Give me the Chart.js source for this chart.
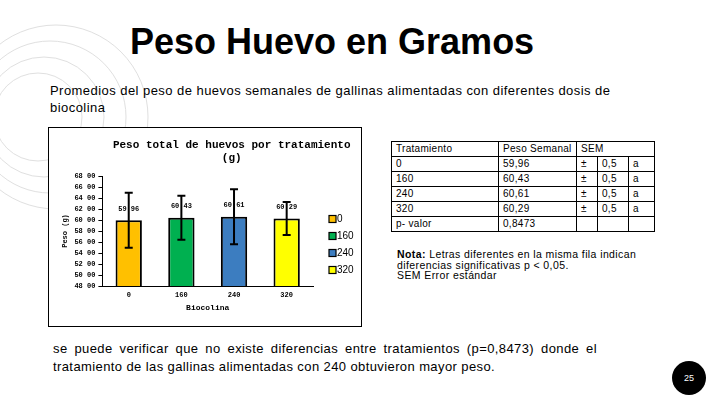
<!DOCTYPE html>
<html lang="es">
<head>
<meta charset="utf-8"/>
<title>Peso Huevo en Gramos</title>
<script src="https://cdn.jsdelivr.net/npm/chart.js"></script>
<style>
  body { margin: 0; width: 720px; height: 405px; position: relative; overflow: hidden; background: #fff; font-family: "Liberation Sans", Arial, sans-serif; color: #000; }
  .deco { position: absolute; left: 0; top: 0; }
  h1 { position: absolute; left: 130px; top: 24px; margin: 0; font-size: 36px; line-height: 36px; font-weight: bold; }
  .sub { position: absolute; left: 50px; top: 82px; font-size: 13px; line-height: 17px; letter-spacing: 0.45px; }
  .box { position: absolute; left: 48px; top: 127px; width: 312px; height: 198px; border: 1px solid #000; background: #fff; }
  table { position: absolute; left: 391px; top: 141px; width: 263px; border-collapse: collapse; table-layout: fixed; font-size: 10px; letter-spacing: 0.3px; }
  td { border: 1px solid #000; height: 14px; padding: 0 0 0 4px; line-height: 14px; white-space: nowrap; overflow: hidden; }
  .nota { position: absolute; left: 397px; top: 249px; font-size: 10.5px; line-height: 10.5px; letter-spacing: 0.4px; }
  .conc { position: absolute; left: 53px; top: 340px; width: 544px; font-size: 13px; line-height: 18px; letter-spacing: 0.4px; text-align: justify; text-align-last: left; }
  .page { position: absolute; left: 672px; top: 361px; width: 34px; height: 34px; border-radius: 50%; background: #000; color: #fff; font-size: 9px; line-height: 34px; text-align: center; }
</style>
</head>
<body>
<svg class="deco" width="200" height="260">
  <g fill="none" stroke="#e0e0e0" stroke-width="1">
    <circle cx="56" cy="117" r="92"/>
    <circle cx="50" cy="117" r="76"/>
    <circle cx="44" cy="117" r="60"/>
    <circle cx="38" cy="117" r="44"/>
  </g>
</svg>

<h1>Peso Huevo en Gramos</h1>
<div class="sub">Promedios del peso de huevos semanales de gallinas alimentadas con diferentes dosis de<br>biocolina</div>

<div class="box"><canvas id="pesoChart"></canvas></div>

<table>
<colgroup><col style="width:107px"><col style="width:78px"><col style="width:21px"><col style="width:31px"><col style="width:26px"></colgroup>
<tr><td>Tratamiento</td><td>Peso Semanal</td><td colspan="3">SEM</td></tr>
<tr><td>0</td><td>59,96</td><td>±</td><td>0,5</td><td>a</td></tr>
<tr><td>160</td><td>60,43</td><td>±</td><td>0,5</td><td>a</td></tr>
<tr><td>240</td><td>60,61</td><td>±</td><td>0,5</td><td>a</td></tr>
<tr><td>320</td><td>60,29</td><td>±</td><td>0,5</td><td>a</td></tr>
<tr><td>p- valor</td><td>0,8473</td><td></td><td></td><td></td></tr>
</table>

<div class="nota"><b>Nota:</b> Letras diferentes en la misma fila indican<br>diferencias significativas p &lt; 0,05.<br>SEM Error estándar</div>

<div class="conc">se puede verificar que no existe diferencias entre tratamientos (p=0,8473) donde el tratamiento de las gallinas alimentadas con 240 obtuvieron mayor peso.</div>

<div class="page">25</div>

<script>
  // datos
  const categories = ['0', '160', '240', '320'];
  const pesoMedio = [59.96, 60.43, 60.61, 60.29];
  const errorBar = [5.0, 4.0, 5.0, 3.0];
  const dataLabels = ['59 96', '60 43', '60 61', '60 29'];
  const yTickLabels = ['48 00', '50 00', '52 00', '54 00', '56 00', '58 00', '60 00', '62 00', '64 00', '66 00', '68 00'];
  const barColors = ['#FFC000', '#00B050', '#3C7DC0', '#FFFF00'];

  const monoBold = (size) => ({ family: '"Liberation Mono", "Courier New", monospace', size: size, weight: 'bold' });

  // titulo del grafico centrado sobre el area + leyenda
  const chartTitle = {
    id: 'chartTitle',
    afterDraw(chart) {
      const ctx = chart.ctx;
      const x = (chart.chartArea.left + chart.width) / 2;
      ctx.save();
      ctx.font = 'bold 11px "Liberation Mono", monospace';
      ctx.fillStyle = '#000';
      ctx.textAlign = 'center';
      ctx.textBaseline = 'middle';
      ctx.fillText('Peso total de huevos por tratamiento', x, 17);
      ctx.fillText('(g)', x, 30);
      ctx.restore();
    }
  };

  // leyenda a la derecha del area de trazado
  const sideLegend = {
    id: 'sideLegend',
    afterDraw(chart) {
      const ctx = chart.ctx;
      const area = chart.chartArea;
      ctx.save();
      ctx.font = '10px "Liberation Sans", Arial, sans-serif';
      ctx.textBaseline = 'middle';
      categories.forEach((c, i) => {
        const x = area.right + 16;
        const y = area.top + 43 + i * 17;
        ctx.fillStyle = barColors[i];
        ctx.fillRect(x, y - 3.5, 7, 7);
        ctx.strokeStyle = '#000';
        ctx.lineWidth = 1.2;
        ctx.strokeRect(x, y - 3.5, 7, 7);
        ctx.fillStyle = '#000';
        ctx.fillText(c, x + 8, y);
      });
      ctx.restore();
    }
  };

  // etiquetas y barras de error
  const errorBars = {
    id: 'errorBars',
    afterDatasetsDraw(chart) {
      const ctx = chart.ctx;
      const y = chart.scales.y;
      const meta = chart.getDatasetMeta(0);
      ctx.save();
      ctx.font = 'bold 7px "Liberation Mono", monospace';
      ctx.fillStyle = '#000';
      ctx.textAlign = 'center';
      ctx.textBaseline = 'middle';
      meta.data.forEach((bar, i) => {
        ctx.fillText(dataLabels[i], bar.x, bar.y - 11);
      });
      ctx.strokeStyle = '#000';
      ctx.lineWidth = 2;
      meta.data.forEach((bar, i) => {
        const top = y.getPixelForValue(pesoMedio[i] + errorBar[i]);
        const bot = y.getPixelForValue(pesoMedio[i] - errorBar[i]);
        ctx.beginPath();
        ctx.moveTo(bar.x, top); ctx.lineTo(bar.x, bot);
        ctx.moveTo(bar.x - 4, top); ctx.lineTo(bar.x + 4, top);
        ctx.moveTo(bar.x - 4, bot); ctx.lineTo(bar.x + 4, bot);
        ctx.stroke();
      });
      ctx.restore();
    }
  };

  new Chart(document.getElementById('pesoChart'), {
    type: 'bar',
    data: {
      labels: categories,
      datasets: [{
        data: pesoMedio,
        backgroundColor: barColors,
        borderColor: '#000',
        borderWidth: 2,
        barPercentage: 0.5,
        categoryPercentage: 1.0
      }]
    },
    options: {
      responsive: true,
      maintainAspectRatio: false,
      animation: false,
      layout: { padding: { top: 48, left: 10, right: 48, bottom: 13 } },
      plugins: {
        tooltip: { enabled: false },
        title: { display: false },
        legend: { display: false }
      },
      scales: {
        x: {
          grid: { display: false, drawTicks: false },
          border: { display: true, color: '#000', width: 1 },
          ticks: { color: '#000', font: monoBold(7), padding: 5 },
          title: { display: true, text: 'Biocolina', color: '#000', font: monoBold(8), padding: { top: -1, bottom: 0 } }
        },
        y: {
          min: 48,
          max: 68,
          ticks: {
            stepSize: 2,
            autoSkip: false,
            color: '#000',
            font: monoBold(7),
            padding: 3,
            callback: (v, i) => yTickLabels[i]
          },
          grid: { display: true, drawOnChartArea: false, drawTicks: true, tickLength: 4, color: '#000' },
          border: { display: true, color: '#000', width: 1 },
          title: { display: true, text: 'Peso (g)', color: '#000', font: monoBold(7), padding: 2 }
        }
      }
    },
    plugins: [chartTitle, sideLegend, errorBars]
  });
</script>
</body>
</html>
